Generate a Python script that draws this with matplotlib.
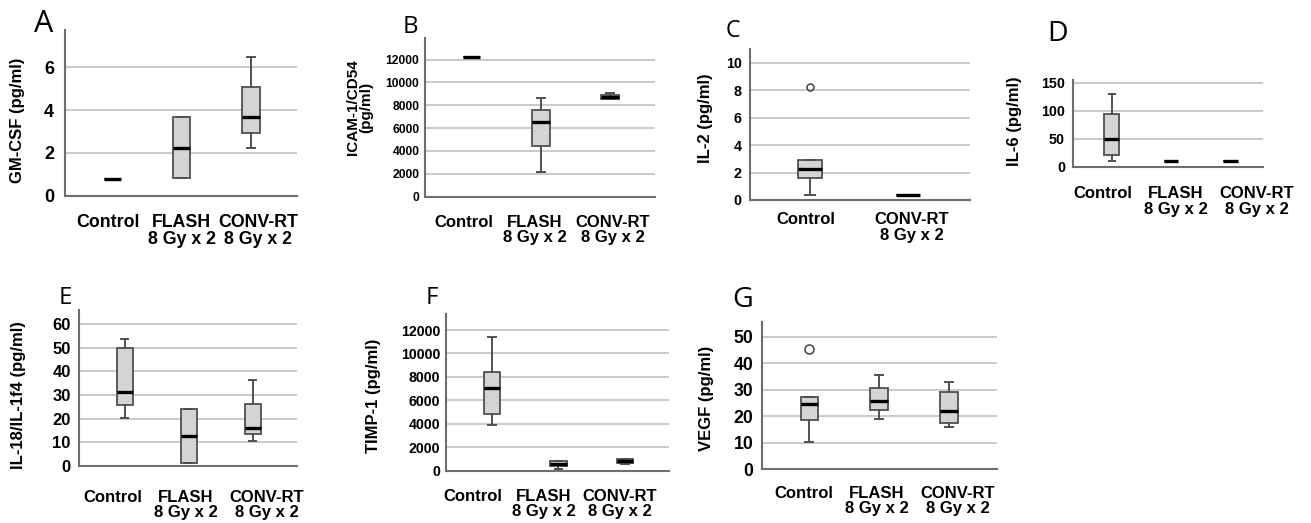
import matplotlib
matplotlib.use("Agg")
import matplotlib.pyplot as plt

W, H = 1311, 523

groups3 = ["Control", "FLASH\n8 Gy x 2", "CONV-RT\n8 Gy x 2"]
groups2 = ["Control", "CONV-RT\n8 Gy x 2"]

# five-number summaries per group: [whisker low, Q1, median, Q3, whisker high]
gmcsf = [[0.8, 0.8, 0.8, 0.8, 0.8], [0.81, 0.81, 2.22, 3.67, 3.67], [2.24, 2.95, 3.67, 5.07, 6.5]]
gmcsf_out = [[], [], []]
icam = [[12250] * 5, [2175, 4430, 6535, 7560, 8610], [8580, 8580, 8750, 8930, 9100]]
icam_out = [[], [], []]
il2 = [[0.37, 1.63, 2.27, 2.9, 2.9], [0.37] * 5]
il2_out = [[8.22], []]
il6 = [[10.2, 20.4, 50, 94, 130], [11] * 5, [11] * 5]
il6_out = [[], [], []]
il18 = [[20.2, 25.6, 31.1, 49.9, 53.7], [1.4, 1.4, 12.8, 24.3, 24.3], [10.7, 13.6, 16.2, 26.3, 36.4]]
il18_out = [[], [], []]
timp = [[3910, 4800, 7050, 8390, 11380], [155, 385, 580, 786, 786], [556, 667, 812, 957, 957]]
timp_out = [[], [], []]
vegf = [[10.3, 18.5, 24.4, 27.1, 27.1], [18.8, 22.2, 25.8, 30.5, 35.5], [16.0, 17.3, 22.0, 29.2, 32.7]]
vegf_out = [[45.4], [], []]

fig = plt.figure(figsize=(W / 100, H / 100), dpi=100)


def rect(l, r, b, t):
    return [l / W, 1 - b / H, (r - l) / W, (b - t) / H]


def panel(box, stats, outl, labels, labpos, ylab, yticks, ylim, xlim, letter, lpos, lsize,
          ylpos, ylsize, tsize, tfam, tpad, xpad, msize, csize=12):
    ax = fig.add_axes(rect(*box))
    data = []
    for s, o in zip(stats, outl):
        data.append(dict(whislo=s[0], q1=s[1], med=s[2], q3=s[3], whishi=s[4], fliers=o))
    pos = list(range(1, len(stats) + 1))
    ax.bxp(data, positions=pos, widths=0.25, capwidths=0.11, patch_artist=True,
           boxprops=dict(facecolor="#d4d4d4", edgecolor="#505050", lw=1.3),
           whiskerprops=dict(color="#505050", lw=1.4),
           capprops=dict(color="#505050", lw=1.4),
           medianprops=dict(color="black", lw=2.4),
           flierprops=dict(marker="o", mfc="none", mec="#404040", ms=msize, mew=1.1))
    ax.set_xlim(*xlim)
    ax.set_ylim(*ylim)
    ax.set_yticks(yticks)
    ax.set_yticklabels([str(v) for v in yticks], fontsize=tsize, fontweight="bold", family=tfam)
    # category labels sit slightly off the box centres in the original figure
    ax.set_xticks(labpos)
    ax.set_xticklabels(labels, fontsize=csize, fontweight="bold", family="Liberation Sans",
                       linespacing=1.05)
    ax.tick_params(axis="y", length=0, pad=tpad)
    ax.tick_params(axis="x", length=0, pad=xpad)
    ax.set_axisbelow(True)
    ax.yaxis.grid(True, color="#c6c6c6", lw=1.3)
    for sp in ["top", "right"]:
        ax.spines[sp].set_visible(False)
    for sp in ["left", "bottom"]:
        ax.spines[sp].set_color("#6e6e6e")
        ax.spines[sp].set_linewidth(1.5)
    fig.text(ylpos[0] / W, 1 - ylpos[1] / H, ylab, rotation=90, ha="center", va="center",
             fontsize=ylsize, fontweight="bold", family="Liberation Sans", linespacing=0.95)
    fig.text(lpos[0] / W, 1 - lpos[1] / H, letter, ha="center", va="center",
             fontsize=lsize, family="Open Sans")
    return ax


narrow = ["Liberation Sans Narrow", "Liberation Sans"]
reg = ["Liberation Sans"]

panel((65, 297, 195.6, 30), gmcsf, gmcsf_out, groups3, [0.94, 2.0, 3.1], "GM-CSF (pg/ml)",
      [0, 2, 4, 6], (0, 7.75), (0.32, 3.66), "A", (44, 24), 22, (18, 120), 12, 13, narrow, 8, 13, 6,
      csize=12.8)
panel((425, 655, 196.5, 38.3), icam, icam_out, groups3, [0.89, 1.915, 3.04], "ICAM-1/CD54\n(pg/ml)",
      [0, 2000, 4000, 6000, 8000, 10000, 12000], (0, 13870), (0.325, 3.65), "B", (410, 27), 17.4,
      (360, 107), 11, 8.7, reg, 4, 13, 6)
panel((750, 970, 200, 49.3), il2, il2_out, groups2, [0.956, 2.04], "IL-2 (pg/ml)",
      [0, 2, 4, 6, 8, 10], (0, 11.0), (0.39, 2.63), "C", (733, 31), 16.7, (705, 118), 12, 10.3,
      reg, 6, 9, 5)
panel((1073.3, 1262.7, 166.7, 80), il6, il6_out, groups3, [0.85, 2.086, 3.45], "IL-6 (pg/ml)",
      [0, 50, 100, 150], (0, 155), (0.35, 3.55), "D", (1058, 34), 20.5, (1015, 121), 12, 10.3,
      reg, 6, 14, 6)
panel((79, 296.7, 466, 310), il18, il18_out, groups3, [0.81, 1.955, 3.22], "IL-18/IL-1f4 (pg/ml)",
      [0, 10, 20, 30, 40, 50, 60], (0, 66), (0.28, 3.69), "E", (65, 298), 17.4,
      (18.3, 395), 12, 12, reg, 6, 17, 6)
panel((446, 669.3, 470.5, 314.3), timp, timp_out, groups3, [0.71, 1.774, 2.925], "TIMP-1 (pg/ml)",
      [0, 2000, 4000, 6000, 8000, 10000, 12000], (0, 13350), (0.31, 3.665), "F", (432, 298), 17.4,
      (373, 396), 12, 10.2, reg, 4, 13, 6)
panel((761.7, 996.7, 469, 321.7), vegf, vegf_out, groups3, [0.92, 1.97, 3.12], "VEGF (pg/ml)",
      [0, 10, 20, 30, 40, 50], (0, 55.6), (0.32, 3.68), "G", (743, 300), 20.5,
      (706.7, 398), 12, 12.7, reg, 6, 12, 6.5)

fig.savefig("out.png", dpi=100)
